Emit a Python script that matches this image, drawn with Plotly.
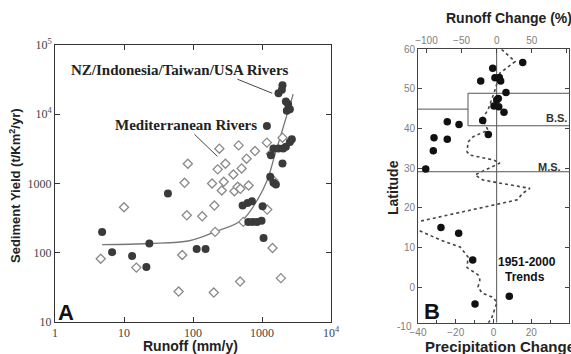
import plotly.graph_objects as go

# ---------------- Panel A data ----------------
med_runoff = [4.6, 10, 15.1, 61.9, 69.8, 75.4, 81.3, 84.1, 136, 189, 204, 200, 209, 228, 241,
              261, 279, 295, 384, 398, 444, 459, 485, 481, 507, 536, 598, 640, 791, 1190,
              1178, 1346, 1420, 1453, 1878, 1981]
med_yield = [82, 454, 61, 27.5, 92.7, 1023, 347, 1930, 336, 1000, 480, 26.6, 200, 1600, 3180,
             792, 1060, 1930, 1350, 773, 895, 3550, 838, 38.4, 1650, 279, 2280, 935, 2940, 420,
             3890, 2690, 117, 1117, 43, 4590]

nz_runoff = [4.82, 6.72, 13.1, 21.1, 23.3, 43.3, 113, 152, 524, 618, 716, 633, 731, 846, 985,
             1019, 1053, 1315, 1468, 1589, 1347, 1981, 1468, 1734, 2028, 2218, 2535, 2706,
             1178, 2218, 2393, 2291, 2535, 1734, 1981, 1941]
nz_yield = [200, 102, 89.6, 62.1, 136, 716, 113, 113, 480, 525, 553, 279, 279, 279, 291,
            469, 163, 1250, 1023, 968, 2550, 1950, 3210, 3210, 3210, 3400, 3970, 4350,
            6760, 15300, 14000, 11200, 11800, 20100, 26300, 22500]

fit_runoff = [4.82, 23.5, 89, 209, 524, 863, 1202, 1503, 1980, 2830]
fit_yield = [130.6, 136, 149, 200, 300, 586, 1143, 2400, 5970, 19500]

nz_leader_x = [439, 1406]
nz_leader_y = [32100, 20100]
med_leader_x = [105, 226]
med_leader_y = [5130, 2460]

a_xticks = [1, 10, 100, 1000, 10000]
a_xticktext = ["1", "10", "100", "1000", "10<sup>4</sup>"]
a_yticks = [10, 100, 1000, 10000, 100000]
a_yticktext = ["10", "100", "1000", "10<sup>4</sup>", "10<sup>5</sup>"]

# ---------------- Panel B data ----------------
runoff_change = [37.1, -5.6, -22.7, -2.4, 3.8, 5.7, 13.3, 2.3, 0.1, -3.8, 2.9, 10.4, -19.9,
                 -70.3, -53.6, -11.9, -89.2, -70.3, -90.2, -101, -79.3, -54.1, -34.1, 18.0, -30.8]
runoff_lat = [56.7, 55.2, 52.0, 52.8, 52.9, 52.0, 49.1, 47.6, 47.2, 45.7, 45.5, 44.1, 42.0,
              41.7, 41.0, 38.5, 37.7, 37.3, 34.4, 29.8, 15.0, 13.6, 6.8, -2.3, -4.3]

precip_change = [4.3, 11.4, 3.4, 0.8, -2.9, -6.1, -2.9, -10.9, -13.5, -14.0, -12.5, -0.3, 3.4,
                 -9.8, -5.6, 17.7, 19.3, 15.6, 12.5, -40, -52, -40, -28.3, -17.7, -13.5, -14.0,
                 -8.2, -7.2, -8.2, -6.1, -0.8, 1.9, -0.8, -3.4]
precip_lat = [60, 56.9, 54.0, 49.7, 44.7, 42.4, 39.6, 37.9, 36.6, 34.1, 33.3, 32.1, 31.3,
              28.3, 27.0, 25.0, 24.9, 23.7, 22.0, 16.5, 15.5, 14.4, 11.9, 10.1, 7.6, 4.9,
              3.1, 1.8, 0.0, -1.5, -2.5, -3.8, -7.6, -9.6]

zero_x = [0, 0]
zero_lat = [-9, 60]
bs_step_x = [-112, -40.8]
bs_step_lat = [44.9, 44.9]
bs_box_x = [103, -40.8, -40.8, 103]
bs_box_lat = [48.9, 48.9, 40.7, 40.7]
ms_x = [-112, 103]
ms_lat = [29.1, 29.1]

b_xticks = [-40, -20, 0, 20, 40]
b_topticks = [-100, -50, 0, 50, 100]
b_yticks = [0, 10, 20, 30, 40, 50, 60]

W, H = 571, 354
SANS = "Liberation Sans, Arial, sans-serif"
SERIF = "Liberation Serif, Times New Roman, serif"

fig = go.Figure()

# Panel A
fig.add_trace(go.Scatter(x=fit_runoff, y=fit_yield, mode="lines",
                         line=dict(color="#777777", width=1.3, shape="spline"),
                         xaxis="x", yaxis="y", showlegend=False, hoverinfo="skip"))
fig.add_trace(go.Scatter(x=med_runoff, y=med_yield, mode="markers",
                         marker=dict(symbol="diamond", size=7, color="white",
                                     line=dict(color="#8a8a8a", width=1.3)),
                         xaxis="x", yaxis="y", showlegend=False))
fig.add_trace(go.Scatter(x=nz_runoff, y=nz_yield, mode="markers",
                         marker=dict(symbol="circle", size=8, color="#3a3a3a",
                                     line=dict(width=0)),
                         xaxis="x", yaxis="y", showlegend=False))
for lx, ly in [(nz_leader_x, nz_leader_y), (med_leader_x, med_leader_y)]:
    fig.add_trace(go.Scatter(x=lx, y=ly, mode="lines", line=dict(color="#444444", width=1),
                             xaxis="x", yaxis="y", showlegend=False, hoverinfo="skip"))

# Panel B
for lx, ly in [(zero_x, zero_lat), (bs_step_x, bs_step_lat), (bs_box_x, bs_box_lat), (ms_x, ms_lat)]:
    fig.add_trace(go.Scatter(x=lx, y=ly, mode="lines", line=dict(color="#555555", width=1),
                             xaxis="x3", yaxis="y2", showlegend=False, hoverinfo="skip"))
fig.add_trace(go.Scatter(x=precip_change, y=precip_lat, mode="lines",
                         line=dict(color="#444444", width=1.6, dash="dot"),
                         xaxis="x2", yaxis="y2", showlegend=False))
fig.add_trace(go.Scatter(x=runoff_change, y=runoff_lat, mode="markers",
                         marker=dict(symbol="circle", size=7.5, color="#111111"),
                         xaxis="x3", yaxis="y2", showlegend=False))

axA = dict(showgrid=False, zeroline=False, showline=True, linecolor="#333333", linewidth=1,
           ticks="inside", ticklen=5, tickcolor="#333333", mirror="ticks", automargin=False,
           tickfont=dict(family=SERIF, size=12, color="#444444"))
axB = dict(showgrid=False, zeroline=False, showline=True, linecolor="#444444", linewidth=1,
           ticks="inside", ticklen=4, tickcolor="#444444", automargin=False,
           tickfont=dict(family=SANS, size=10, color="#808080"))

fig.update_layout(
    width=W, height=H, margin=dict(l=0, r=0, t=0, b=0, pad=0), autosize=False,
    paper_bgcolor="white", plot_bgcolor="white", showlegend=False,
    xaxis=dict(axA, domain=[55 / W, 331 / W], type="log", range=[0, 4], anchor="y",
               tickvals=a_xticks, ticktext=a_xticktext),
    yaxis=dict(axA, domain=[32 / H, 309 / H], type="log", range=[1, 5], anchor="x",
               tickvals=a_yticks, ticktext=a_yticktext),
    xaxis2=dict(axB, domain=[418 / W, 569 / W], range=[-40, 40], anchor="y2",
                tickvals=b_xticks, minor=dict(ticks="inside", dtick=10, ticklen=3, tickcolor="#444444")),
    xaxis3=dict(axB, overlaying="x2", side="top", range=[-112, 103], anchor="y2",
                tickvals=b_topticks),
    yaxis2=dict(axB, domain=[(H - 322.7) / H, (H - 49.3) / H], range=[-9, 60], anchor="x2",
                tickvals=b_yticks, mirror="ticks"),
)

def ann(text, x, y, size, family=SANS, color="#222222", bold=True, angle=0, xanchor="center"):
    t = f"<b>{text}</b>" if bold else text
    fig.add_annotation(text=t, x=x / W, y=1 - y / H, xref="paper", yref="paper",
                       showarrow=False, xanchor=xanchor, yanchor="middle", textangle=angle,
                       font=dict(family=family, size=size, color=color))

ann("NZ/Indonesia/Taiwan/USA Rivers", 180, 70, 15, family=SERIF)
ann("Mediterranean Rivers", 186, 125, 15, family=SERIF)
ann("A", 66, 312, 22, color="#111111")
ann("Runoff (mm/y)", 190, 346, 14)
ann("Sediment Yield (t/Km<sup>2</sup>/yr)", 15, 186, 13, angle=-90)

ann("Runoff Change (%)", 509, 18, 14)
ann("Precipitation Change", 500, 346, 15)
ann("Latitude", 393, 188, 14, angle=-90)
ann("B", 432, 311, 22, color="#111111")
ann("B.S.", 556, 118, 11, color="#333333")
ann("M.S.", 549, 167, 11, color="#333333")
ann("1951-2000", 527, 262, 12, color="#111111")
ann("Trends", 525, 277, 12, color="#111111")
ann("-10", 414, 326, 10, color="#808080", bold=False, xanchor="right")

fig.write_html("out.html", config={"displayModeBar": False},
               post_script="document.body.style.margin='0px';")
